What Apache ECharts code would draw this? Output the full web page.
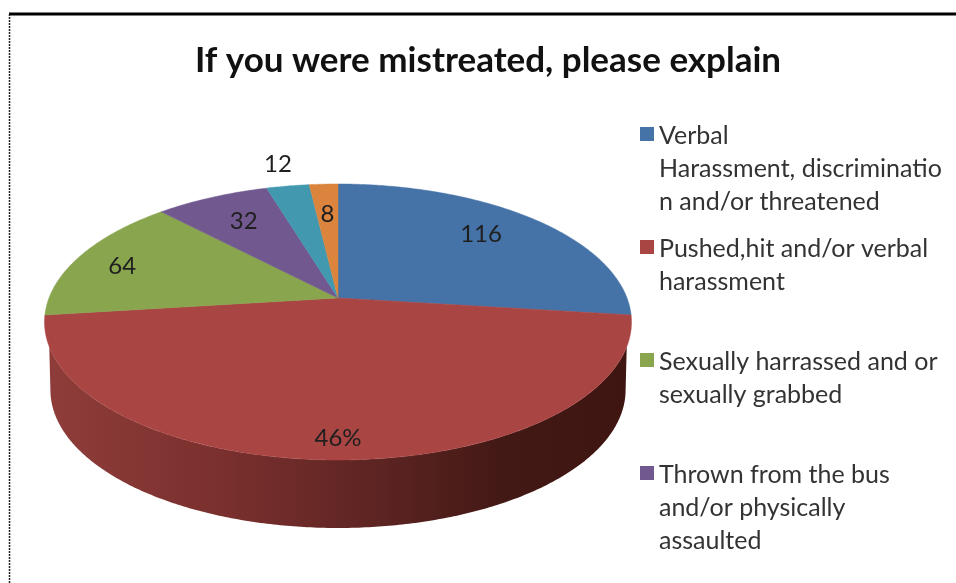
<!DOCTYPE html>
<html>
<head>
<meta charset="utf-8">
<style>html,body{margin:0;padding:0;background:#fff}#c{width:956px;height:583px}</style>
<script src="https://cdn.jsdelivr.net/npm/echarts@6/dist/echarts.min.js"></script>
</head>
<body>
<div id="c"></div>
<script>
const categories = [
  'Verbal Harassment, discrimination and/or threatened',
  'Pushed,hit and/or verbal harassment',
  'Sexually harrassed and or sexually grabbed',
  'Thrown from the bus and/or physically assaulted',
  'Other',
  'Other (2)'
];
const values = [116, 198, 64, 32, 12, 8];
const valueLabels = ['116', '46%', '64', '32', '12', '8'];
const colors = ['#4572A7', '#A94542', '#89A54E', '#71588F', '#4198AF', '#DB843D'];
const legendLines = {
  [categories[0]]: 'Verbal\nHarassment, discriminatio\nn and/or threatened',
  [categories[1]]: 'Pushed,hit and/or verbal\nharassment\n ',
  [categories[2]]: 'Sexually harrassed and or\nsexually grabbed\n ',
  [categories[3]]: 'Thrown from the bus\nand/or physically\nassaulted'
};

const labelRadius = [0.72, 0.885, 0.84, 0.72, 1.24, 0.70];
const labelNudge = [[-1, -5], [0, 0], [2, 4], [0, -2], [0, 0], [0, 0]];
const FONT = 'Lato, "Open Sans", sans-serif';
const total = values.reduce((a, b) => a + b, 0);
const starts = values.map((_, i) => values.slice(0, i).reduce((a, b) => a + b, 0));
const cfg = { cx: 338, cy: 298, R: 289, fy: 82, c: 0.1739, depth: 68, lowerScale: 0.98 };

function project(theta, r, lower) {
  const u = r * Math.sin(theta), v = r * Math.cos(theta), w = 1 + cfg.c * v;
  const s = lower ? cfg.lowerScale : 1;
  return [
    cfg.cx + s * cfg.R * u / w,
    (cfg.cy - cfg.fy * v) / w + (lower ? cfg.depth : 0)
  ];
}
function arc(a0, a1, lower) {
  const n = Math.max(2, Math.ceil((a1 - a0) / 0.01)), pts = [];
  for (let i = 0; i <= n; i++) pts.push(project(a0 + (a1 - a0) * i / n, 1, lower));
  return pts;
}
const DEG = Math.PI / 180;
const rimFrom = 110 * DEG, rimTo = 250 * DEG, baseFrom = 100 * DEG, baseTo = 260 * DEG;
const wallFill = {
  type: 'linear', x: 45, y: 0, x2: 631, y2: 0, global: true,
  colorStops: [
    { offset: 0, color: '#8f3d3a' },
    { offset: 0.3, color: '#7a302e' },
    { offset: 0.55, color: '#5f2523' },
    { offset: 0.78, color: '#431915' },
    { offset: 1, color: '#3f1512' }
  ]
};

function renderSlice(i) {
  return function (params, api) {
    const a0 = starts[i] / total * 2 * Math.PI;
    const a1 = (starts[i] + api.value(0)) / total * 2 * Math.PI;
    const children = [];
    const r0 = Math.max(a0, rimFrom), r1 = Math.min(a1, rimTo);
    if (r1 > r0) {
      const b0 = Math.max(a0, baseFrom), b1 = Math.min(a1, baseTo);
      children.push({
        type: 'polygon',
        shape: { points: arc(r0, r1, false).concat(arc(b0, b1, true).reverse()) },
        style: { fill: wallFill }
      });
    }
    children.push({
      type: 'polygon',
      shape: { points: [project(0, 0, false)].concat(arc(a0, a1, false)) },
      style: { fill: colors[i], stroke: colors[i], lineWidth: 0.5 }
    });
    const p = project((a0 + a1) / 2, labelRadius[i], false);
    children.push({
      type: 'text', z2: 10,
      style: {
        x: p[0] + labelNudge[i][0], y: p[1] + labelNudge[i][1],
        text: valueLabels[i], align: 'center', verticalAlign: 'middle',
        font: '24px ' + FONT, fill: '#1f1f1f'
      }
    });
    return { type: 'group', children };
  };
}

const chart = echarts.init(document.getElementById('c'), null, { renderer: 'canvas' });
chart.setOption({
  animation: false,
  backgroundColor: '#fff',
  title: {
    text: 'If you were mistreated, please explain',
    left: 483, top: 38, textAlign: 'center',
    textStyle: { fontFamily: FONT, fontSize: 35, fontWeight: 'bold', color: '#111' }
  },
  legend: {
    orient: 'vertical', left: 640, top: 119, padding: 0,
    data: categories.slice(0, 4),
    itemWidth: 14, itemHeight: 99, itemGap: 14,
    icon: 'path://M0 8H14V22H0Z M0 0H0.01V0.01H0Z M0 99H0.01V99.01H0Z',
    formatter: n => legendLines[n],
    textStyle: { fontFamily: FONT, fontSize: 25, lineHeight: 33, color: '#333' },
    selectedMode: false
  },
  graphic: [
    { type: 'line', shape: { x1: 9, y1: 14, x2: 956, y2: 14 }, style: { stroke: '#000', lineWidth: 3 } },
    { type: 'line', shape: { x1: 9.5, y1: 14, x2: 9.5, y2: 583 }, style: { stroke: '#222', lineWidth: 1.5, lineDash: [2, 1] } }
  ],
  series: categories.map((name, i) => ({
    type: 'custom', name, coordinateSystem: 'none',
    data: [[values[i]]],
    itemStyle: { color: colors[i] },
    renderItem: renderSlice(i),
    silent: true
  }))
});
</script>
</body>
</html>
